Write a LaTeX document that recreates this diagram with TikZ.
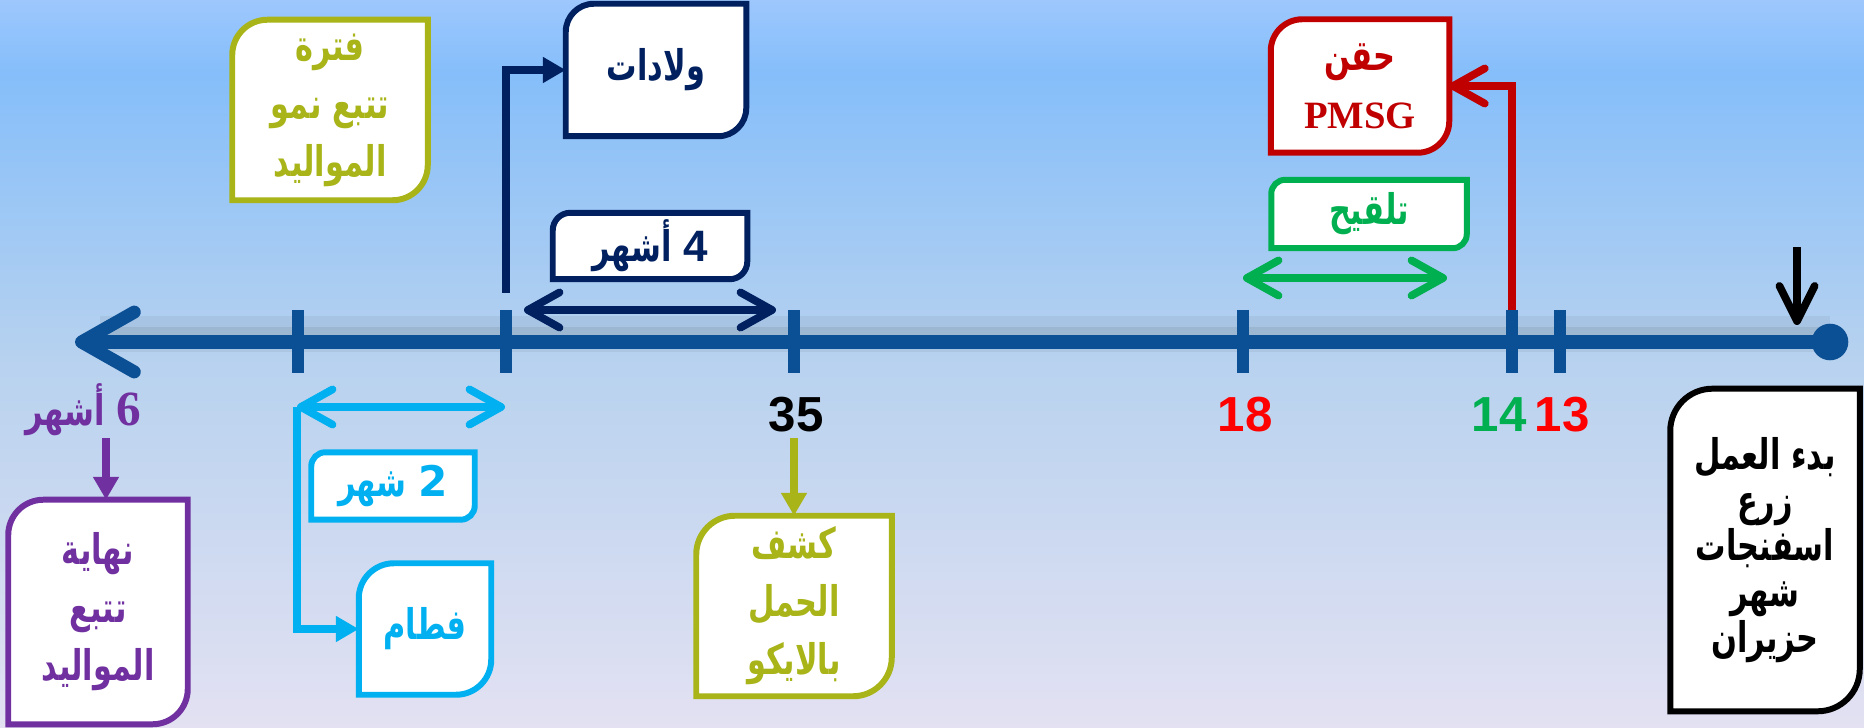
\documentclass[tikz,border=0pt]{standalone}
\usepackage{fontspec}
\usepackage{graphicx}
\usepackage{tikz}
\usetikzlibrary{arrows.meta}
\setmainfont{Liberation Sans}
\newfontfamily\arabicfont[Script=Arabic]{DejaVu Sans}
\newfontfamily\serifnum{Liberation Serif}
\TeXXeTstate=1
\newcommand{\ar}[1]{\scalebox{0.72}[1]{\arabicfont\beginR #1\endR}}

\definecolor{navyline}{HTML}{002060}
\definecolor{axisblue}{HTML}{0B4F94}
\definecolor{oliveline}{HTML}{A8B418}
\definecolor{darkredline}{HTML}{C00000}
\definecolor{brightred}{HTML}{FF0000}
\definecolor{officegreen}{HTML}{00B050}
\definecolor{skyline}{HTML}{00B0F0}
\definecolor{purpleline}{HTML}{7030A0}
\definecolor{bgtop}{HTML}{9DC7FD}
\definecolor{bgband}{HTML}{85BEFA}
\definecolor{bgmid}{HTML}{B8D2EF}
\definecolor{bgbot}{HTML}{E3E1F2}

\pgfdeclareverticalshading{skyfade}{100bp}{color(0bp)=(bgbot); color(25bp)=(bgbot); color(50bp)=(bgmid); color(70bp)=(bgband); color(75bp)=(bgtop); color(100bp)=(bgtop)}

\pgfdeclarelayer{back}
\pgfsetlayers{back,main}

% frame with rounded top-left and bottom-right corners
\newcommand{\cardframe}[3]{%
  \begin{pgfonlayer}{back}
    \draw[#2, line width=1.7pt, fill=white] (#1.north east) -- ([yshift=#3]#1.south east)
      arc[start angle=0, end angle=-90, radius=#3] -- (#1.south west) -- ([yshift=-#3]#1.north west)
      arc[start angle=180, end angle=90, radius=#3] -- cycle;
  \end{pgfonlayer}}

\begin{document}
\begin{tikzpicture}[x=0.01cm, y=-0.01cm,
    card/.style 2 args={minimum width=#1cm, minimum height=#2cm, inner sep=0pt, align=center,
      font=\bfseries\fontsize{12}{16.5}\selectfont},
    numlbl/.style={font=\bfseries\fontsize{14}{16}\selectfont, inner sep=0pt},
    link/.style={line width=2.2pt},
    barb/.style={link, -{Straight Barb[round, length=9pt, width=10pt]}},
    twobarb/.style={link, {Straight Barb[round, length=9pt, width=10pt]}-{Straight Barb[round, length=9pt, width=10pt]}},
    tri/.style={link, -{Triangle[length=6.5pt, width=7pt]}},
    tickmark/.style={axisblue, line width=3.4pt}]

  % backdrop
  \begin{pgfonlayer}{back}
    \shade[shading=skyfade] (0,0) rectangle (1864,728);
  \end{pgfonlayer}
  \useasboundingbox (0,0) rectangle (1864,728);

  % time axis
  \coordinate (origin) at (1830,342);
  \coordinate (axisend) at (75,342);
  \draw[black, opacity=0.05, line width=10pt] (1830,334) -- (100,334);
  \draw[black, opacity=0.07, line width=5pt] (1830,336) -- (100,336);
  \draw[axisblue, line width=3.7pt, -{Straight Barb[round, length=15pt, width=17pt]}] (origin) -- (axisend);
  \fill[axisblue] (origin) circle (5.2pt);
  \foreach \x/\t in {298/a, 506/b, 794/c, 1243/d, 1512/e, 1560/f}{
    \coordinate (tick\t) at (\x,342);
    \draw[tickmark] (\x,310) -- (\x,373);
  }

  % day numbers
  \node[numlbl] (n35) at (796,415) {35};
  \node[numlbl, text=brightred] (n18) at (1245,415) {18};
  \node[numlbl, text=officegreen] (n14) at (1499,415) {14};
  \node[numlbl, text=brightred] (n13) at (1562,415) {13};

  % boxes above the axis
  \node[card={1.94}{1.79}, text=oliveline] (fatra) at (330,110) {\ar{فترة}\\\ar{تتبع نمو}\\\ar{المواليد}};
  \cardframe{fatra}{oliveline}{10pt}
  \node[card={1.79}{1.31}, text=navyline] (wladat) at (656,70) {\ar{ولادات}};
  \cardframe{wladat}{navyline}{8pt}
  \node[card={1.93}{0.65}, text=navyline] (arbaa) at (650,246) {\ar{أشهر}~{\fontsize{12.5}{14}\selectfont 4}};
  \cardframe{arbaa}{navyline}{5pt}
  \node[card={1.77}{1.32}, text=darkredline] (haqn) at (1360,86) {\ar{حقن}\\{\serifnum\fontsize{11}{14}\selectfont PMSG}};
  \cardframe{haqn}{darkredline}{9pt}
  \node[card={1.94}{0.67}, text=officegreen] (talqih) at (1369,214) {\ar{تلقيح}};
  \cardframe{talqih}{officegreen}{4pt}

  % boxes below the axis
  \node[card={1.78}{2.23}, text=purpleline] (nihaya) at (98,612) {\ar{نهاية}\\\ar{تتبع}\\\ar{المواليد}};
  \cardframe{nihaya}{purpleline}{10pt}
  \node[card={1.62}{0.66}, text=skyline] (shahr) at (393,486) {\ar{شهر}~{\arabicfont 2}};
  \cardframe{shahr}{skyline}{4pt}
  \node[card={1.31}{1.30}, text=skyline] (fitam) at (425,629) {\ar{فطام}};
  \cardframe{fitam}{skyline}{10pt}
  \node[card={1.94}{1.79}, text=oliveline] (kashf) at (794,606) {\ar{كشف}\\\ar{الحمل}\\\ar{بالايكو}};
  \cardframe{kashf}{oliveline}{11pt}
  \node[card={1.88}{3.21}, font=\bfseries\fontsize{12}{13}\selectfont] (start) at (1765,550) {\ar{بدء العمل}\\\ar{زرع}\\\ar{اسفنجات}\\\ar{شهر}\\\ar{حزيران}};
  \cardframe{start}{black}{12pt}

  % six months label
  \node[font=\bfseries\fontsize{12}{16}\selectfont, text=purpleline, inner sep=0pt] (m6) at (83,410) {\ar{أشهر}~{\serifnum\fontsize{14}{16}\selectfont 6}};

  % connectors
  \coordinate (navyl) at (524,310);
  \coordinate (navyr) at (776,310);
  \coordinate (greenl) at (1243,278);
  \coordinate (greenr) at (1447,278);
  \coordinate (wleft) at (297,407);
  \coordinate (wright) at (505,407);
  \coordinate (startabove) at (1797,247);
  \coordinate (startmark) at (1797,325);
  \coordinate (m6foot) at (106,438);
  \coordinate (n35foot) at (794,438);

  \draw[navyline, tri] ([yshift=14pt]tickb) |- (wladat.west);
  \draw[navyline, twobarb] (navyl) -- (navyr);
  \draw[darkredline, barb] ([yshift=9pt]ticke) |- (haqn.east);
  \draw[officegreen, twobarb] (greenl) -- (greenr);
  \draw[skyline, twobarb] (wleft) -- (wright);
  \draw[skyline, tri] (wleft) |- (fitam.west);
  \draw[purpleline, tri] (m6foot) -- (m6foot |- nihaya.north);
  \draw[oliveline, tri] (n35foot) -- (kashf.north);
  \draw[black, barb, -{Straight Barb[round, length=10pt, width=10pt]}] (startabove) -- (startmark);
\end{tikzpicture}
\end{document}
